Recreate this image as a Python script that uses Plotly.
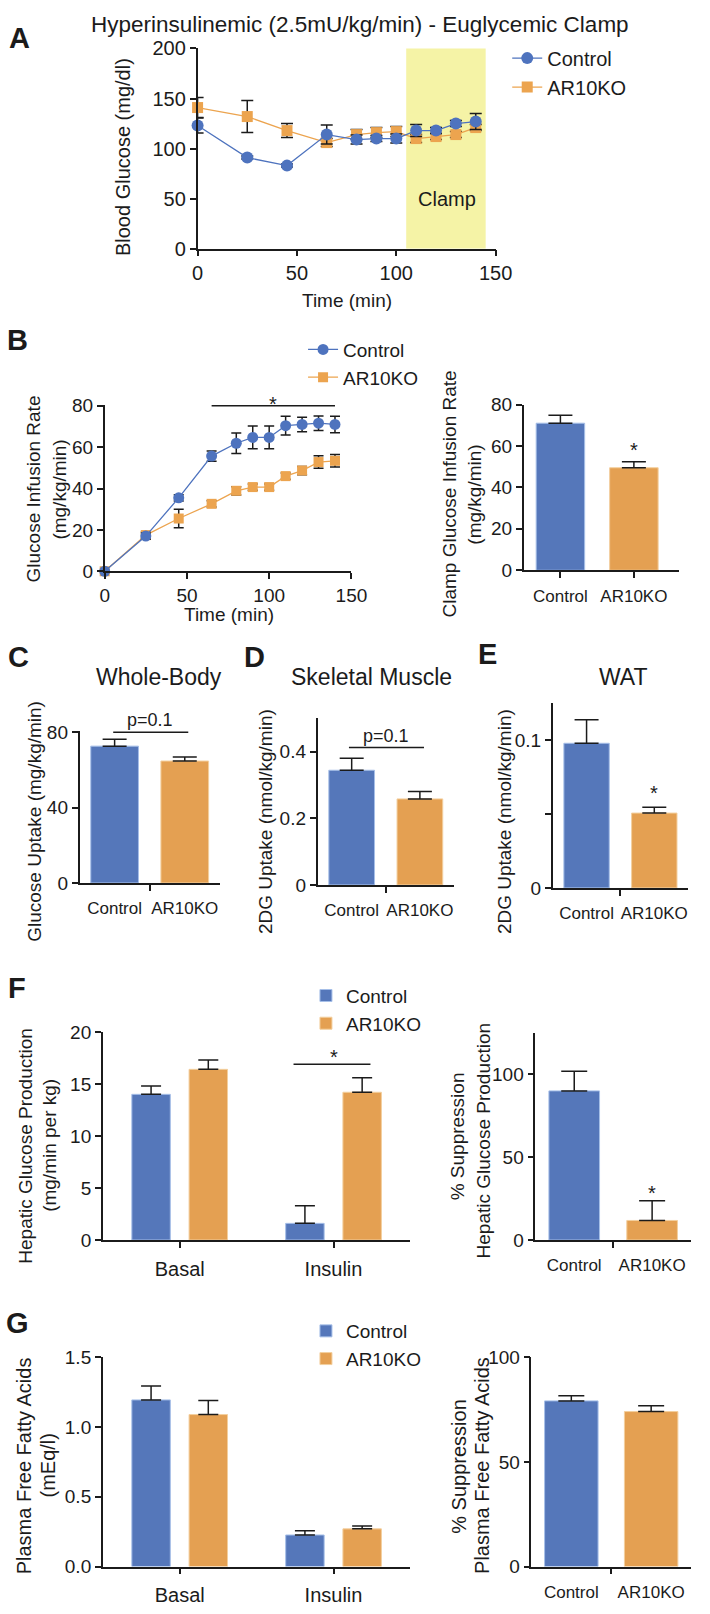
import plotly.graph_objects as go

W, H = 710, 1614
FONT = 'Liberation Sans, Arial, Helvetica, sans-serif'
INK = '#1b1b1b'
BLUE, ORANGE = '#5577ba', '#e4a052'
BLUE_EDGE, ORANGE_EDGE = '#a6bfe8', '#f3cf9e'
BLUE_MK, ORANGE_MK = '#4e73be', '#eca44f'

groups = ['Control', 'AR10KO']
conditions = ['Basal', 'Insulin']

# A - blood glucose during the clamp
bg_time = [0, 25, 45, 65, 80, 90, 100, 110, 120, 130, 140]
bg_control = [123, 91, 83, 114, 109, 110, 110, 118, 118, 125, 127]
bg_control_sem = [7.5, 1.5, 1.5, 9.5, 4.5, 3, 4.5, 6, 3, 3, 8]
bg_ko = [141, 132, 118, 106, 114, 116, 117, 110, 112, 114, 121]
bg_ko_sem = [10, 16, 7, 4, 5, 5, 5, 4, 3, 3, 3]
clamp_window = [105, 145]

# B - glucose infusion rate
gir_time = [0, 25, 45, 65, 80, 90, 100, 110, 120, 130, 140]
gir_control = [0, 17, 35.5, 55.7, 61.9, 64.7, 64.7, 70.4, 71, 71.6, 71]
gir_control_sem = [0, 1.5, 1.5, 2.5, 5, 5.5, 5.5, 4.5, 3.5, 3.5, 4]
gir_ko = [0, 17.5, 25.5, 32.6, 38.9, 40.7, 40.7, 46, 48.7, 52.8, 53.4]
gir_ko_sem = [0, 1.5, 4.5, 1.5, 2, 1.5, 1.5, 1.5, 2, 3, 3]
gir_sig_window = [65, 140]
clamp_gir = [71, 49.5]
clamp_gir_sem = [3.8, 2.9]

# C, D, E - tissue glucose uptake
whole_body = [72.6, 64.7]
whole_body_sem = [3.7, 2.1]
muscle = [0.344, 0.258]
muscle_sem = [0.036, 0.022]
wat = [0.098, 0.0507]
wat_sem = [0.016, 0.004]

# F - hepatic glucose production
hgp_control = [14.0, 1.6]
hgp_control_sem = [0.8, 1.7]
hgp_ko = [16.4, 14.2]
hgp_ko_sem = [0.9, 1.4]
hgp_suppression = [90, 11.8]
hgp_suppression_sem = [11.8, 11.9]

# G - plasma free fatty acids
ffa_control = [1.195, 0.226]
ffa_control_sem = [0.1, 0.03]
ffa_ko = [1.09, 0.27]
ffa_ko_sem = [0.1, 0.02]
ffa_suppression = [79.2, 74.1]
ffa_suppression_sem = [2.4, 2.8]

# pixel boxes of each plot area: left, right, top, bottom
BOX = {
    1: (198, 506, 38, 241),
    2: (102, 357, 399, 568),
    3: (535, 696, 399, 567),
    4: (76, 221, 730, 884),
    5: (322, 463, 717, 886),
    6: (565, 705, 702, 889),
    7: (100, 418, 1035, 1246),
    8: (547, 708, 1036, 1246),
    9: (100, 418, 1365, 1577),
    10: (543, 708, 1365, 1577),
}


def ax_name(kind, n):
    return kind + 'axis' + ('' if n == 1 else str(n))


def ref(kind, n):
    return kind + ('' if n == 1 else str(n))


AX = dict(showline=True, linecolor=INK, linewidth=1.5, ticks='outside', ticklen=6,
          tickwidth=1.5, tickcolor=INK, showgrid=False, zeroline=False,
          tickfont=dict(size=19, color=INK), fixedrange=True)

fig = go.Figure()
layout = {}


def axes(n, xr, yr, xkw=None, ykw=None):
    l, r, t, b = BOX[n]
    xa = dict(AX, domain=[l / W, r / W], range=xr, anchor=ref('y', n))
    ya = dict(AX, domain=[1 - b / H, 1 - t / H], range=yr, anchor=ref('x', n))
    xa.update(xkw or {})
    ya.update(ykw or {})
    layout[ax_name('x', n)] = xa
    layout[ax_name('y', n)] = ya


def err(vals, half):
    return dict(type='data', array=vals, arrayminus=[0] * len(vals), symmetric=False,
                color=INK, thickness=1.5, width=half)


cat_x = dict(tickmode='array', tickvals=[0, 1], ticktext=groups, tickcolor='rgba(0,0,0,0)',
             ticklen=9, tickfont=dict(size=17, color=INK),
             minor=dict(tickmode='array', tickvals=[0.5], ticks='outside', ticklen=6,
                        tickwidth=1.5, tickcolor=INK))
cond_x = dict(tickmode='array', tickvals=[0, 1], ticktext=conditions,
              tickfont=dict(size=20, color=INK), ticklabelstandoff=4)

# ---- A
axes(1, [0, 150], [0, 200], dict(tickvals=[0, 50, 100, 150], tickfont=dict(size=20, color=INK)),
     dict(tickvals=[0, 50, 100, 150, 200], tickfont=dict(size=20, color=INK)))
layout.setdefault('shapes', []).append(dict(
    type='rect', xref='x', yref='y', x0=clamp_window[0], x1=clamp_window[1], y0=0, y1=202,
    fillcolor='#f5f3a6', line=dict(width=0), layer='below'))
for name, ys, sem, col, sym, sz, rank in [
        ('AR10KO', bg_ko, bg_ko_sem, ORANGE_MK, 'square', 11, 2),
        ('Control', bg_control, bg_control_sem, BLUE_MK, 'circle', 12, 1)]:
    fig.add_trace(go.Scatter(
        x=bg_time, y=ys, name=name, mode='lines+markers', legendrank=rank,
        line=dict(color=col, width=1.3), marker=dict(symbol=sym, size=sz, color=col),
        error_y=dict(type='data', array=sem, color=INK, thickness=1.5, width=6),
        cliponaxis=False, xaxis='x', yaxis='y', legend='legend'))

# ---- B left
axes(2, [0, 150], [0, 80.6], dict(tickvals=[0, 50, 100, 150]),
     dict(tickvals=[0, 20, 40, 60, 80]))
for name, ys, sem, col, sym, sz, rank in [
        ('AR10KO', gir_ko, gir_ko_sem, ORANGE_MK, 'square', 10, 2),
        ('Control', gir_control, gir_control_sem, BLUE_MK, 'circle', 11, 1)]:
    fig.add_trace(go.Scatter(
        x=gir_time, y=ys, name=name, mode='lines+markers', legendrank=rank,
        line=dict(color=col, width=1.3), marker=dict(symbol=sym, size=sz, color=col),
        error_y=dict(type='data', array=sem, color=INK, thickness=1.5, width=5),
        cliponaxis=False, xaxis='x2', yaxis='y2', legend='legend2'))
layout['shapes'].append(dict(type='line', xref='x2', yref='y2', x0=gir_sig_window[0],
                             x1=gir_sig_window[1], y0=80, y1=80, line=dict(color=INK, width=1.5)))

# ---- single comparison bar panels
single = [
    (3, clamp_gir, clamp_gir_sem, [-0.5, 1.62], [0, 80], dict(tickvals=[0, 20, 40, 60, 80]), 0.66, 12),
    (4, whole_body, whole_body_sem, [-0.5, 1.5], [0, 80.6], dict(tickvals=[0, 40, 80]), 0.68, 12),
    (5, muscle, muscle_sem, [-0.5, 1.5], [0, 0.5], dict(tickvals=[0, 0.2, 0.4]), 0.67, 12),
    (6, wat, wat_sem, [-0.5, 1.5], [0, 0.125],
     dict(tickvals=[0, 0.05, 0.1], ticktext=['0', '', '0.1']), 0.67, 12),
    (8, hgp_suppression, hgp_suppression_sem, [-0.5, 1.5], [0, 125], dict(tickvals=[0, 50, 100]), 0.65, 13),
    (10, ffa_suppression, ffa_suppression_sem, [-0.5, 1.5], [0, 100], dict(tickvals=[0, 50, 100]), 0.67, 13),
]
for n, vals, sem, xr, yr, ykw, wd, cap in single:
    xkw = dict(cat_x)
    if n == 3:
        xkw = dict(tickmode='array', tickvals=[0, 1], ticktext=groups,
                   tickfont=dict(size=17, color=INK), ticklabelstandoff=4)
    axes(n, xr, yr, xkw, ykw)
    fig.add_trace(go.Bar(
        x=[0, 1], y=vals, width=wd, showlegend=False,
        marker=dict(color=[BLUE, ORANGE], line=dict(color=[BLUE_EDGE, ORANGE_EDGE], width=1)),
        error_y=err(sem, cap), xaxis=ref('x', n), yaxis=ref('y', n)))

# ---- grouped panels F / G
grouped = [
    (7, hgp_control, hgp_control_sem, hgp_ko, hgp_ko_sem, [0, 20],
     dict(tickvals=[0, 5, 10, 15, 20]), 'legend3'),
    (9, ffa_control, ffa_control_sem, ffa_ko, ffa_ko_sem, [0, 1.5],
     dict(tickvals=[0, 0.5, 1.0, 1.5], tickformat='.1f'), 'legend4'),
]
bar_w, bar_shift = 0.25, 0.186
for n, c, cs, k, ks, yr, ykw, lg in grouped:
    axes(n, [-0.5, 1.5], yr, cond_x, ykw)
    for name, vals, sem, col, edge, sgn in [('Control', c, cs, BLUE, BLUE_EDGE, -1),
                                            ('AR10KO', k, ks, ORANGE, ORANGE_EDGE, 1)]:
        fig.add_trace(go.Bar(
            x=[0, 1], y=vals, name=name, width=bar_w, offset=sgn * bar_shift - bar_w / 2,
            marker=dict(color=col, line=dict(color=edge, width=1)),
            error_y=err(sem, 10), xaxis=ref('x', n), yaxis=ref('y', n), legend=lg))

# significance lines
layout['shapes'] += [
    dict(type='line', xref='x4', yref='y4', x0=-0.02, x1=1.05, y0=80, y1=80,
         line=dict(color=INK, width=1.5)),
    dict(type='line', xref='x5', yref='y5', x0=-0.04, x1=1.06, y0=0.412, y1=0.412,
         line=dict(color=INK, width=1.5)),
    dict(type='line', xref='x7', yref='y7', x0=1 - 0.26, x1=1 + 0.24, y0=16.9, y1=16.9,
         line=dict(color=INK, width=1.5)),
]

ann = []


def text(x, y, s, size=19, **kw):
    d = dict(x=x / W, y=1 - y / H, xref='paper', yref='paper', text=s, showarrow=False,
             font=dict(size=size, color=INK, family=FONT), xanchor='center', yanchor='middle')
    d.update(kw)
    ann.append(d)


def vtext(x, y, s, size=19):
    text(x, y, s, size, textangle=-90)


def data_text(xr, yr, x, y, s, size=20, yshift=0):
    ann.append(dict(x=x, y=y, xref=xr, yref=yr, text=s, showarrow=False, yshift=yshift,
                    font=dict(size=size, color=INK, family=FONT), xanchor='center',
                    yanchor='middle'))


# panel letters
for letter, x, y in [('A', 14, 27), ('B', 12, 334), ('C', 13, 655), ('D', 257, 655),
                     ('E', 498, 652), ('F', 11, 990), ('G', 12, 1330)]:
    text(x, y, '<b>%s</b>' % letter, 29)

text(366, 14, 'Hyperinsulinemic (2.5mU/kg/min) - Euglycemic Clamp', 22.5)
text(158, 675, 'Whole-Body', 23)
text(378, 675, 'Skeletal Muscle', 23)
text(638, 675, 'WAT', 23)

# axis titles
text(352, 293, 'Time (min)')
text(230, 612, 'Time (min)')
vtext(121, 148, 'Blood Glucose (mg/dl)', 20)
vtext(28, 485, 'Glucose Infusion Rate')
vtext(55, 485, '(mg/kg/min)')
vtext(458, 490, 'Clamp Glucose Infusion Rate')
vtext(484, 490, '(mg/kg/min)')
vtext(30, 822, 'Glucose Uptake (mg/kg/min)')
vtext(268, 822, '2DG Uptake (nmol/kg/min)')
vtext(515, 822, '2DG Uptake (nmol/kg/min)')
vtext(20, 1150, 'Hepatic Glucose Production')
vtext(45, 1150, '(mg/min per kg)')
vtext(467, 1141, '% Suppression')
vtext(493, 1145, 'Hepatic Glucose Production')
vtext(18, 1475, 'Plasma Free Fatty Acids', 20)
vtext(43, 1475, '(mEq/l)', 20)
vtext(468, 1475, '% Suppression', 20)
vtext(492, 1475, 'Plasma Free Fatty Acids', 20)

# in-plot text
data_text('x', 'y', sum(clamp_window) / 2 + 0.5, 50, 'Clamp', 20)
data_text('x2', 'y2', sum(gir_sig_window) / 2, 80, '*', 20, 2)
data_text('x3', 'y3', 1, clamp_gir[1] + clamp_gir_sem[1], '*', 20, 12)
data_text('x4', 'y4', 0.5, 80, 'p=0.1', 18, 12)
data_text('x5', 'y5', 0.5, 0.412, 'p=0.1', 18, 12)
data_text('x6', 'y6', 1, wat[1] + wat_sem[1], '*', 20, 14)
data_text('x7', 'y7', 1, 16.9, '*', 20, 7)
data_text('x8', 'y8', 1, hgp_suppression[1] + hgp_suppression_sem[1], '*', 20, 8)

LEG = dict(font=dict(size=19, color=INK, family=FONT), bgcolor='rgba(0,0,0,0)',
           xanchor='left', yanchor='top', itemwidth=30, tracegroupgap=0)
layout['legend'] = dict(LEG, x=518 / W, y=1 - 28 / H, font=dict(size=20, color=INK, family=FONT))
layout['legend2'] = dict(LEG, x=307 / W, y=1 - 324 / H)
layout['legend3'] = dict(LEG, x=310 / W, y=1 - 979 / H)
layout['legend4'] = dict(LEG, x=310 / W, y=1 - 1319 / H)

fig.update_layout(**layout)
fig.update_layout(
    width=W, height=H, margin=dict(l=0, r=0, t=0, b=0),
    plot_bgcolor='white', paper_bgcolor='white', barmode='overlay',
    font=dict(family=FONT, color=INK), annotations=ann, showlegend=True)

fig.write_html("out.html", config={'displayModeBar': False},
               post_script="document.body.style.margin='0';")
